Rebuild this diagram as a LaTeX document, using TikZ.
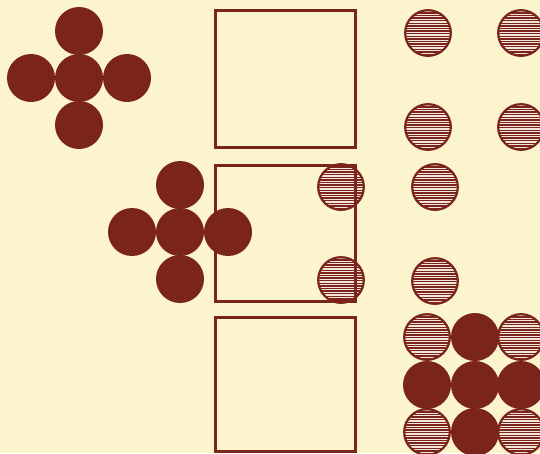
\documentclass[tikz,border=0pt]{standalone}
\usepackage{tikz}
\usetikzlibrary{positioning}
\definecolor{DiscRed}{HTML}{7A241B}
\definecolor{PaperCream}{HTML}{FCF4CD}
\definecolor{HatchCream}{HTML}{F2E6DC}

% one hatched disc at (x,y)
\newcommand{\hatchdisc}[2]{%
  \begin{scope}
    \clip (#1,#2) circle (23.5);
    \fill[DiscRed] (#1,#2) circle (23.5);
    \foreach \k in {-24,-21.4,...,24}
      \draw[HatchCream, line width=1.05pt] ({#1-25},{#2+\k}) -- ({#1+25},{#2+\k});
  \end{scope}
  \draw[DiscRed, line width=2.2pt] (#1,#2) circle (22.8);}

\begin{document}
\begin{tikzpicture}[x=1pt, y=-1pt]
% Paper
\fill[PaperCream] (0,0) rectangle (540,453);
\useasboundingbox (0,0) rectangle (540,453);

% Solid crosses
\foreach \cx/\cy in {79/78, 180/232}
{
  \foreach \dx/\dy in {0/0, 0/-47, 0/47, -48/0, 48/0}
    \fill[DiscRed] ({\cx+\dx},{\cy+\dy}) circle (24);
}

% Hatched discs
\foreach \hx/\hy in {
  428/33, 521/33, 428/127, 521/127,
  341/187, 341/280, 435/187, 435/281,
  427/337, 521/337, 427/432, 521/432}
{
  \hatchdisc{\hx}{\hy}
}

% Solid discs in the bottom block
\foreach \fx/\fy in {475/337, 427/385, 475/385, 521/385, 475/432}
  \fill[DiscRed] (\fx,\fy) circle (24);

% Squares
\foreach \top/\bot in {10/147, 165/301, 317/451}
  \draw[DiscRed, line width=3pt] (215,\top) rectangle (355,\bot);
\end{tikzpicture}
\end{document}
